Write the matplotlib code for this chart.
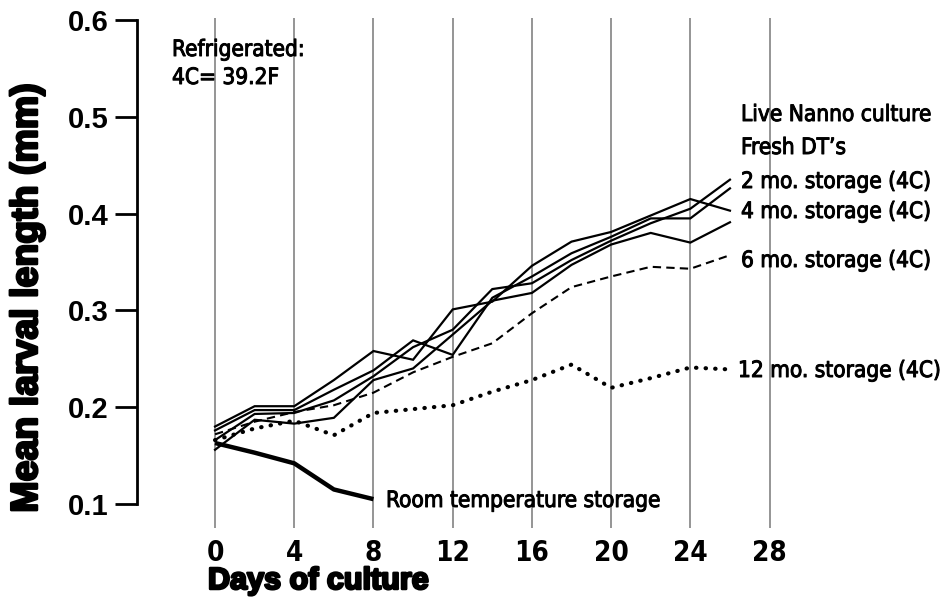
import matplotlib
matplotlib.use("Agg")
import matplotlib.pyplot as plt
from matplotlib import font_manager
from matplotlib.font_manager import FontProperties
import matplotlib.patheffects as pe

def find_font(keys_list, bold):
    for keys in keys_list:
        for f in font_manager.fontManager.ttflist:
            fn = f.fname.replace("-", "").replace("_", "").lower()
            if all(k in fn for k in keys):
                isb = "bold" in fn
                isi = "italic" in fn or "oblique" in fn
                if isb == bold and not isi:
                    return f.fname
    return None

narrow_reg = find_font([["liberationsansnarrow"], ["dejavusanscondensed"]], False)
narrow_bold = find_font([["liberationsansnarrow"], ["dejavusanscondensed"]], True)

def fp(size, bold=False, narrow=True):
    if narrow:
        path = narrow_bold if bold else narrow_reg
        if path:
            return FontProperties(fname=path, size=size)
        return FontProperties(family="Liberation Sans", weight="bold" if bold else "normal", size=size * 0.95)
    return FontProperties(family="Liberation Sans", weight="bold" if bold else "normal", size=size)

days = [0, 2, 4, 6, 8, 10, 12, 14, 16, 18, 20, 22, 24, 26]
room_days = [0, 2, 4, 6, 8]

live_nanno = [0.180, 0.201, 0.201, 0.228, 0.258, 0.249, 0.301, 0.309, 0.346, 0.371, 0.381, 0.398, 0.415, 0.403]
fresh_dts = [0.176, 0.197, 0.197, 0.218, 0.238, 0.269, 0.254, 0.313, 0.335, 0.359, 0.376, 0.395, 0.395, 0.426]
mo2 = [0.166, 0.193, 0.194, 0.207, 0.232, 0.262, 0.280, 0.322, 0.328, 0.352, 0.372, 0.390, 0.405, 0.435]
mo4 = [0.156, 0.187, 0.183, 0.189, 0.228, 0.240, 0.275, 0.310, 0.318, 0.347, 0.368, 0.380, 0.370, 0.391]
mo6 = [0.172, 0.185, 0.195, 0.202, 0.215, 0.236, 0.252, 0.266, 0.297, 0.324, 0.335, 0.345, 0.343, 0.357]
mo12 = [0.166, 0.178, 0.186, 0.171, 0.194, 0.198, 0.202, 0.216, 0.228, 0.244, 0.220, 0.230, 0.241, 0.239]
room = [0.163, 0.153, 0.142, 0.115, 0.105]

xticks = [0, 4, 8, 12, 16, 20, 24, 28]
yticks = [0.1, 0.2, 0.3, 0.4, 0.5, 0.6]
ytick_labels = ["0.1", "0.2", "0.3", "0.4", "0.5", "0.6"]

W, H = 943, 599
fig = plt.figure(figsize=(W / 100, H / 100), dpi=100)
ax = fig.add_axes([137 / W, (H - 528) / H, 791 / W, 510 / H])
ax.set_xlim(-3.94, 36.0)
ax.set_ylim(0.0752, 0.602)

for s in ["top", "right", "bottom"]:
    ax.spines[s].set_visible(False)
ax.spines["left"].set_bounds(0.1, 0.6)
ax.spines["left"].set_linewidth(2.0)

for d in xticks:
    ax.axvline(d, color="#8c8c8c", lw=1.3, zorder=1)

ax.set_xticks(xticks)
ax.set_xticklabels([str(t) for t in xticks], fontproperties=fp(20, bold=True))
ax.tick_params(axis="x", length=0, pad=8)
ax.set_yticks(yticks)
ax.set_yticklabels(ytick_labels, fontproperties=fp(21, bold=True, narrow=False))
ax.tick_params(axis="y", length=15.5, width=2.0, pad=5, direction="out")

k = dict(color="black", zorder=3, solid_joinstyle="miter")
for series in [live_nanno, fresh_dts, mo2, mo4]:
    ax.plot(days, series, lw=1.6, **k)
ax.plot(days, mo6, lw=1.5, linestyle=(0, (4, 2.5)), **k)
ax.plot(days, mo12, lw=3.0, linestyle=(0, (0.1, 2.2)), dash_capstyle="round", color="black", zorder=3)
ax.plot(room_days, room, lw=3.2, color="black", zorder=3, solid_capstyle="butt")

ann = dict(fontproperties=fp(16.2), color="black", ha="left", va="center",
           path_effects=[pe.withStroke(linewidth=0.7, foreground="black")])

def ftext(xp, yp, s, **kw):
    fig.text(xp / W, 1 - yp / H, s, **kw)

ftext(172, 50, "Refrigerated:", **ann)
ftext(172, 78, "4C= 39.2F", **ann)
ftext(741, 115, "Live Nanno culture", **ann)
ftext(741, 148, "Fresh DT\u2019s", **ann)
ftext(741, 182, "2 mo. storage (4C)", **ann)
ftext(741, 212, "4 mo. storage (4C)", **ann)
ftext(741, 261, "6 mo. storage (4C)", **ann)
ftext(738, 371, "12 mo. storage (4C)", **ann)
ftext(386, 501, "Room temperature storage", **ann)

heavy = [pe.withStroke(linewidth=1.8, foreground="black")]
ftext(27, 298, "Mean larval length (mm)", fontproperties=fp(27, bold=True, narrow=False),
      rotation=90, ha="center", va="center", path_effects=heavy)
ftext(208, 581, "Days of culture", fontproperties=fp(22, bold=True, narrow=False),
      ha="left", va="center", path_effects=heavy)

fig.savefig("out.png", dpi=100)
